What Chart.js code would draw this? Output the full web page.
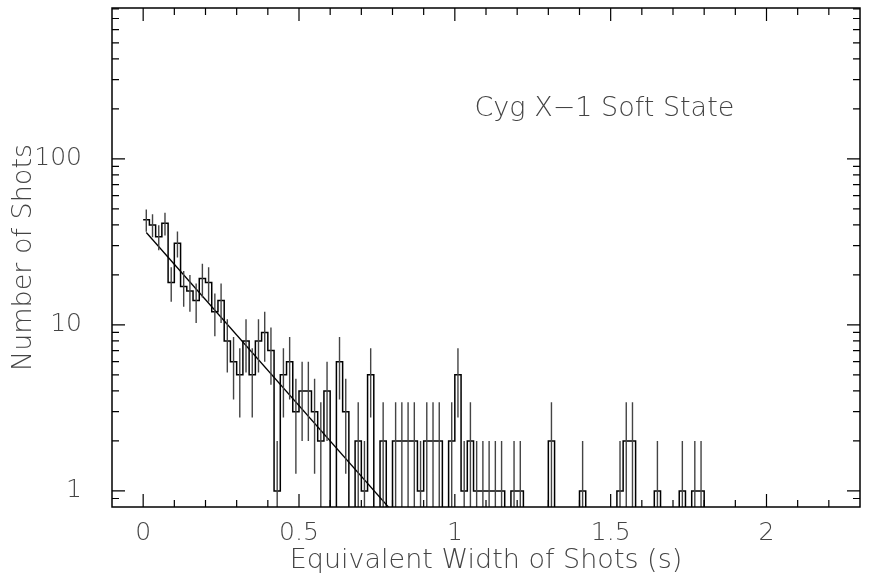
<!DOCTYPE html>
<html>
<head>
<meta charset="utf-8">
<script src="https://cdn.jsdelivr.net/npm/chart.js@4.4.1/dist/chart.umd.min.js"></script>
<style>
  html, body { margin: 0; padding: 0; background: #fff; }
  #wrap { width: 876px; height: 577px; }
</style>
</head>
<body>
<div id="wrap"><canvas id="shotChart"></canvas></div>
<script>
// Shot equivalent-width histogram, 0.02 s bins starting at 0 s
const BIN_START = 0;
const BIN_WIDTH = 0.02;
const shotCounts = [
  43, 40, 34, 41, 18, 31, 17, 16, 14, 19,
  18, 12, 14, 8, 6, 5, 8, 5, 8, 9,
  7, 1, 5, 6, 3, 4, 4, 3, 2, 4,
  0, 6, 3, 0, 2, 1, 5, 0, 2, 0,
  2, 2, 2, 2, 1, 2, 2, 2, 0, 2,
  5, 1, 2, 1, 1, 1, 1, 1, 0, 1,
  1, 0, 0, 0, 0, 2, 0, 0, 0, 0,
  1, 0, 0, 0, 0, 0, 1, 2, 2, 0,
  0, 0, 1, 0, 0, 0, 1, 0, 1, 1
];

// exponential fit (straight on the log axis), end points
const fitX = [0.01, 0.8];
const fitY = [36, 0.75];

const xTickValues = [0, 0.5, 1, 1.5, 2];
const yTickValues = [1, 10, 100];
const titleText = "Cyg X\u22121 Soft State";
const titlePos = [1.48, 200];

const X_MIN = -0.1, X_MAX = 2.3;
const Y_MIN = 0.8, Y_MAX = 810;
const FLOOR = 0.05; // empty bins drop below the axis

const FONT = "'DejaVu Sans', 'Liberation Sans', sans-serif";
const TEXT_COLOR = "#444";
const TEXT_SIZE = 27;
const TICK_SIZE = 25;

// step outline: one point per left edge, then close off the last bin
const histPoints = [];
shotCounts.forEach((n, i) => {
  histPoints.push({ x: BIN_START + i * BIN_WIDTH, y: n > 0 ? n : FLOOR });
});
const lastEdge = BIN_START + shotCounts.length * BIN_WIDTH;
histPoints.push({ x: lastEdge, y: shotCounts[shotCounts.length - 1] });
histPoints.push({ x: lastEdge, y: FLOOR });

// sqrt(N) error bars at bin centres, separated by gaps
const errPoints = [];
shotCounts.forEach((n, i) => {
  if (n <= 0) return;
  const c = BIN_START + (i + 0.5) * BIN_WIDTH;
  const s = Math.sqrt(n);
  const lo = n - s > 0 ? n - s : FLOOR;
  errPoints.push({ x: c, y: lo }, { x: c, y: n + s }, { x: c, y: null });
});

const fitPoints = fitX.map((x, i) => ({ x: x, y: fitY[i] }));

// frame with inward ticks on all four sides, plus the in-plot label
const framePlugin = {
  id: "frame",
  afterDatasetsDraw(chart) {
    const { ctx, chartArea: a, scales } = chart;
    const xs = scales.x, ys = scales.y;
    ctx.save();
    ctx.strokeStyle = "#000";
    ctx.lineWidth = 1.5;
    ctx.strokeRect(a.left, a.top, a.right - a.left, a.bottom - a.top);

    ctx.lineWidth = 1.2;
    ctx.beginPath();
    for (let k = -1; k <= 23; k++) {
      const v = k / 10;
      const px = xs.getPixelForValue(v);
      if (px < a.left + 0.5 || px > a.right - 0.5) continue;
      const len = k % 5 === 0 ? 13 : 7;
      ctx.moveTo(px, a.bottom); ctx.lineTo(px, a.bottom - len);
      ctx.moveTo(px, a.top); ctx.lineTo(px, a.top + len);
    }
    for (let d = 0.1; d <= 1000; d *= 10) {
      for (let m = 1; m <= 9; m++) {
        const v = m * d;
        if (v < Y_MIN || v > Y_MAX) continue;
        const py = ys.getPixelForValue(v);
        if (py > a.bottom - 0.5 || py < a.top + 0.5) continue;
        const len = m === 1 ? 13 : 7;
        ctx.moveTo(a.left, py); ctx.lineTo(a.left + len, py);
        ctx.moveTo(a.right, py); ctx.lineTo(a.right - len, py);
      }
    }
    ctx.stroke();

    ctx.fillStyle = TEXT_COLOR;
    ctx.font = "200 " + TEXT_SIZE + "px " + FONT;
    ctx.textAlign = "center";
    ctx.textBaseline = "middle";
    ctx.fillText(titleText, xs.getPixelForValue(titlePos[0]), ys.getPixelForValue(titlePos[1]));
    ctx.restore();
  }
};

new Chart(document.getElementById("shotChart"), {
  type: "line",
  data: {
    datasets: [
      {
        data: errPoints,
        borderColor: "#444",
        borderWidth: 1.4,
        pointRadius: 0,
        spanGaps: false
      },
      {
        data: histPoints,
        borderColor: "#000",
        borderWidth: 1.5,
        pointRadius: 0,
        stepped: "before"
      },
      {
        data: fitPoints,
        borderColor: "#000",
        borderWidth: 1.3,
        pointRadius: 0
      }
    ]
  },
  options: {
    responsive: true,
    maintainAspectRatio: false,
    animation: false,
    events: [],
    layout: { padding: { top: 8, right: 16, left: 0, bottom: 0 } },
    plugins: {
      legend: { display: false },
      tooltip: { enabled: false }
    },
    scales: {
      x: {
        type: "linear",
        min: X_MIN,
        max: X_MAX,
        grid: { display: false },
        border: { display: false },
        afterBuildTicks: (scale) => { scale.ticks = xTickValues.map(v => ({ value: v })); },
        afterFit: (scale) => { scale.height = 70; },
        ticks: {
          color: TEXT_COLOR,
          padding: 3,
          maxRotation: 0,
          font: { family: FONT, size: TICK_SIZE, weight: 200 },
          callback: (v) => String(v)
        },
        title: {
          display: true,
          text: "Equivalent Width of Shots (s)",
          color: TEXT_COLOR,
          font: { family: FONT, size: TEXT_SIZE, weight: 200 },
          padding: { top: 0, bottom: 0 }
        }
      },
      y: {
        type: "logarithmic",
        min: Y_MIN,
        max: Y_MAX,
        grid: { display: false },
        border: { display: false },
        afterBuildTicks: (scale) => { scale.ticks = yTickValues.map(v => ({ value: v })); },
        afterFit: (scale) => {
          scale.width = 112;
          // labels sit well inside the range, no extra room needed
          scale.paddingTop = 0;
          scale.paddingBottom = 0;
        },
        ticks: {
          color: TEXT_COLOR,
          padding: 22,
          font: { family: FONT, size: TICK_SIZE, weight: 200 },
          callback: (v) => String(v)
        },
        title: {
          display: true,
          text: "Number of Shots",
          color: TEXT_COLOR,
          font: { family: FONT, size: TEXT_SIZE, weight: 200 },
          padding: { top: 8, bottom: 0 }
        }
      }
    }
  },
  plugins: [framePlugin]
});
</script>
</body>
</html>
